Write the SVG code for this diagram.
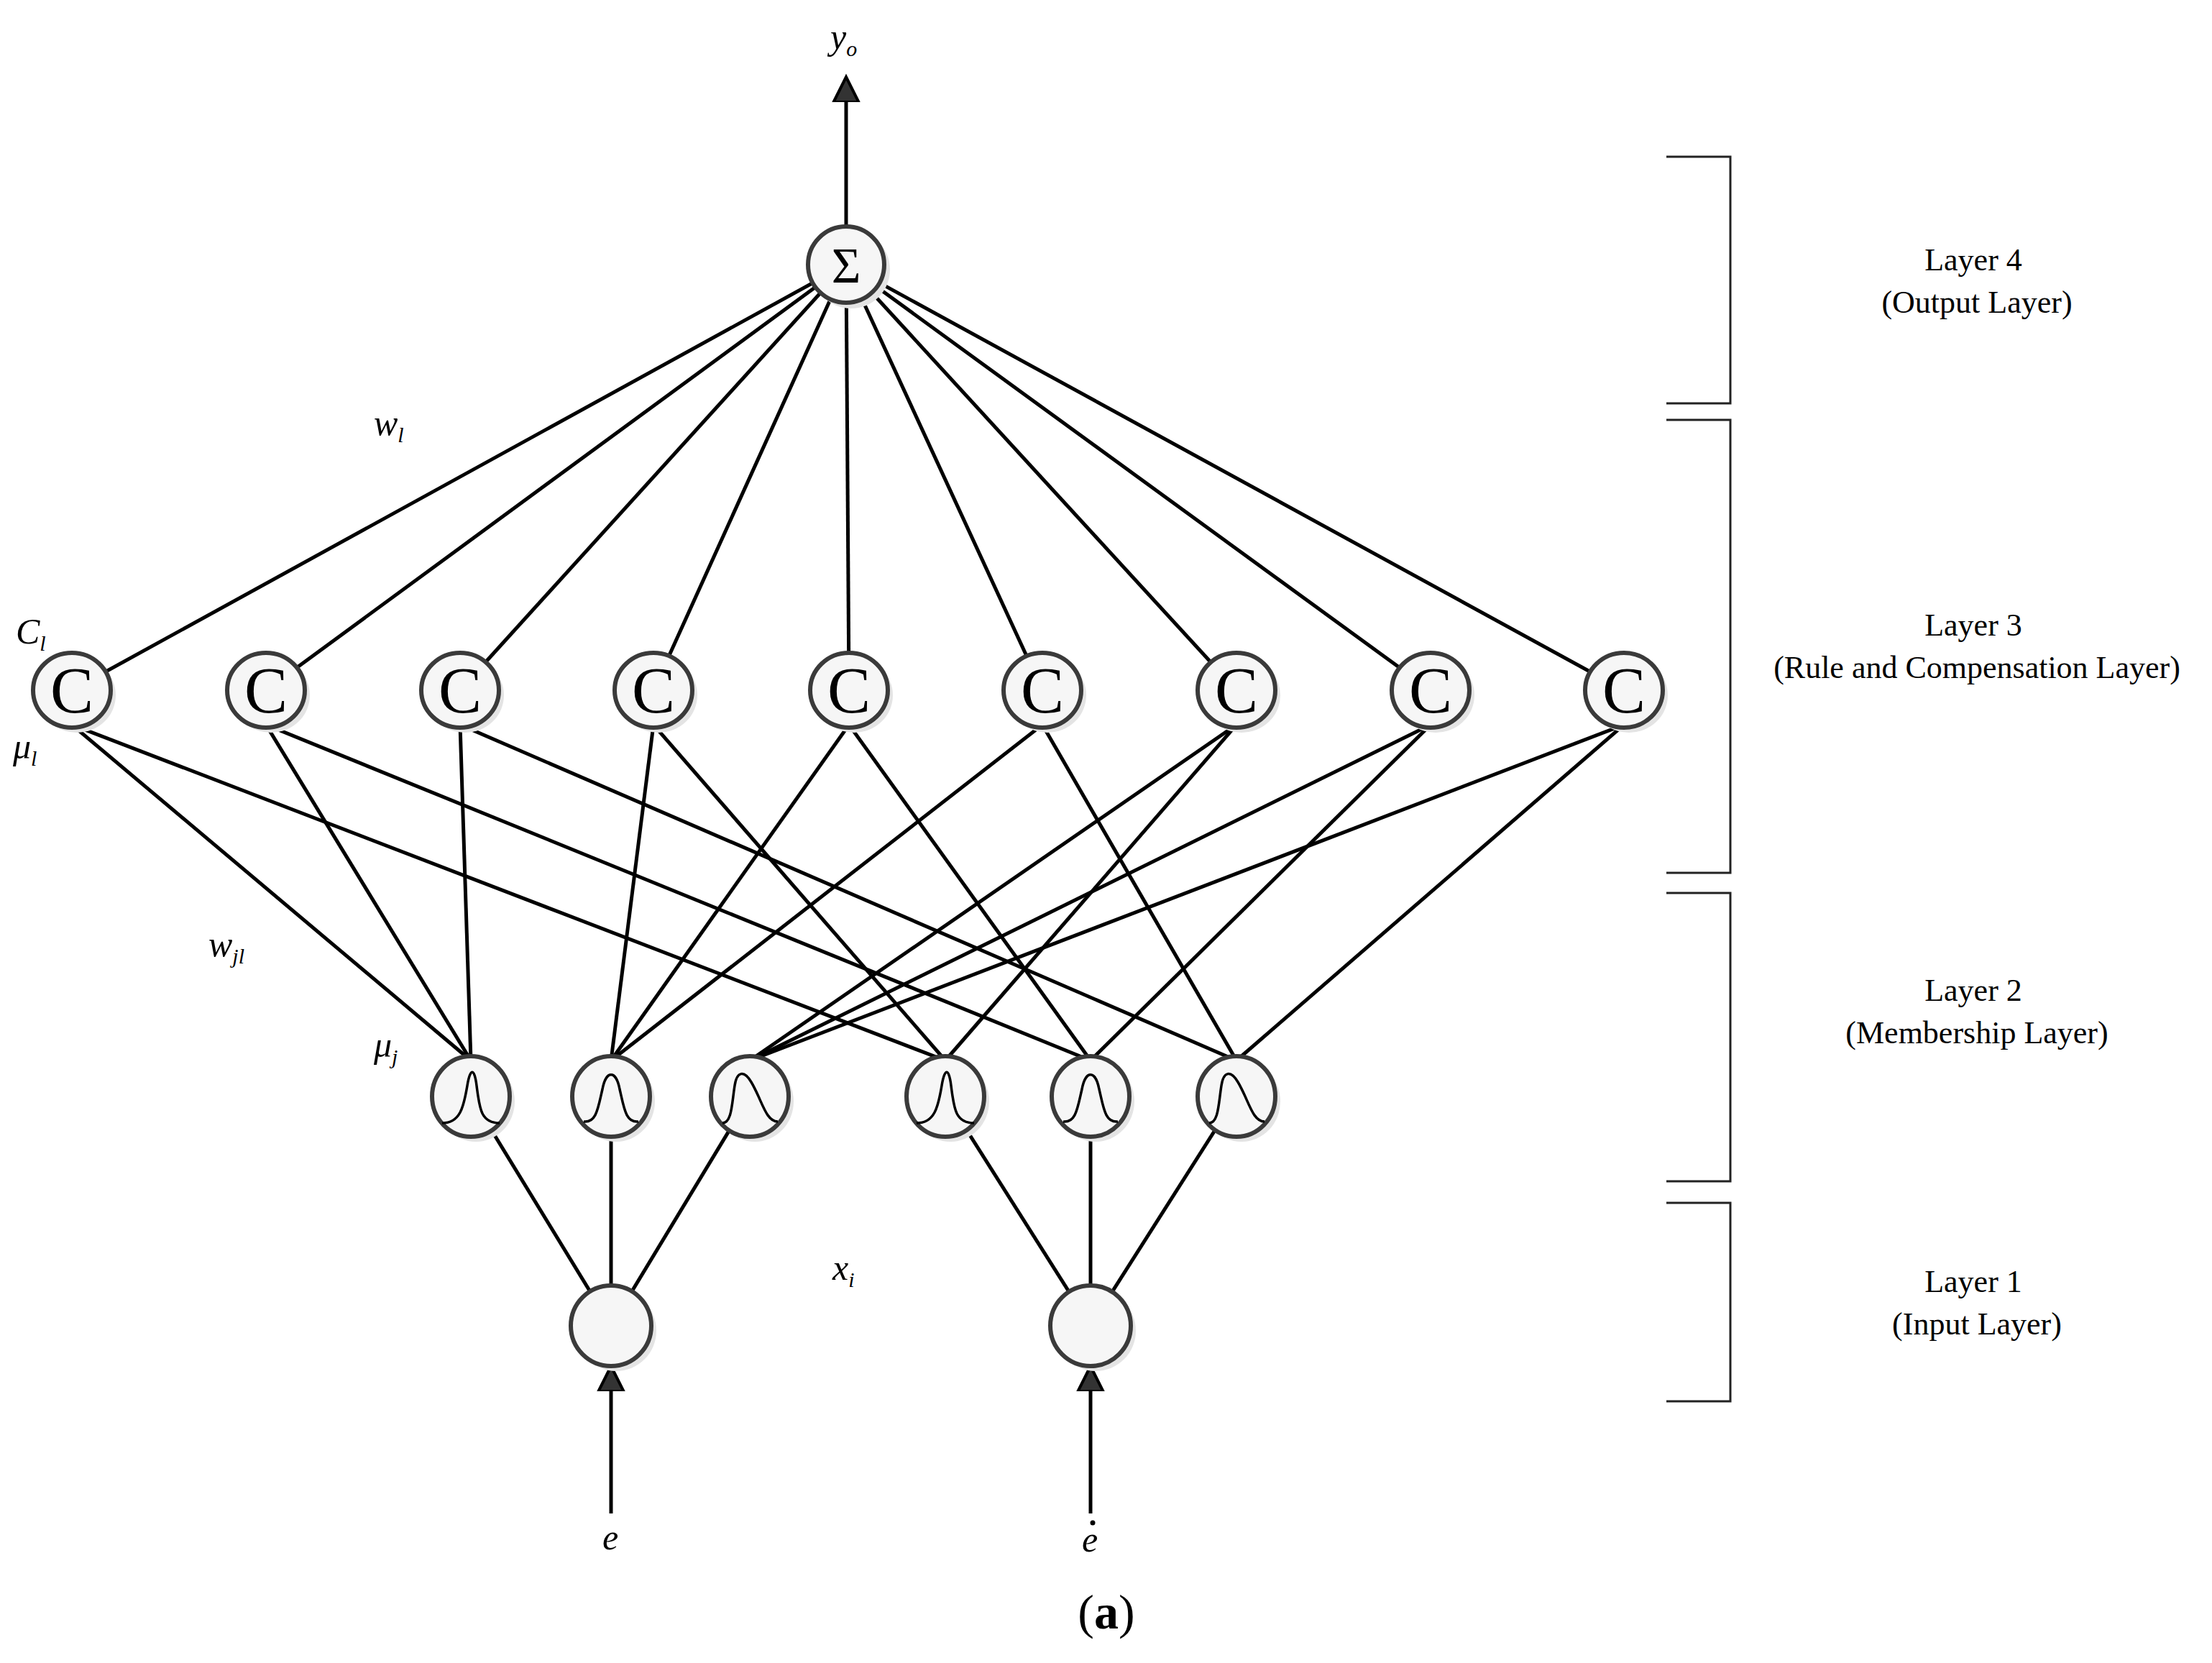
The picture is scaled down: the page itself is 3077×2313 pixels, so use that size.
<svg xmlns="http://www.w3.org/2000/svg" width="3077" height="2313" viewBox="0 0 3077 2313">
<style>
.n{fill:#f6f6f6;stroke:#3a3a3a;stroke-width:6}
.sh{fill:#e4e4e4}
.c{stroke:#000;stroke-width:5;fill:none}
.g{stroke:#000;stroke-width:3.5;fill:none}
.t{font-family:'Liberation Serif',serif;font-size:44px;text-anchor:middle}
.i{font-family:'Liberation Serif',serif;font-style:italic;font-size:50px}
.s{font-size:30px}
.C{font-family:'Liberation Serif',serif;font-size:90px;text-anchor:middle}
.b{stroke:#222;stroke-width:3;fill:none}
</style>
<defs>
<marker id="ah" markerWidth="8" markerHeight="8" refX="6" refY="4" orient="auto" markerUnits="strokeWidth"><path d="M0,0.5 L7,4 L0,7.5 Z" fill="#333" stroke="#000" stroke-width="0.8"/></marker>
</defs>
<g id="connectors">
<line class="c" x1="1177" y1="315" x2="1177" y2="112" marker-end="url(#ah)"/>
<line class="c" x1="850" y1="2105" x2="850" y2="1905" marker-end="url(#ah)"/>
<line class="c" x1="1517" y1="2105" x2="1517" y2="1905" marker-end="url(#ah)"/>
<g>
<line class="c" x1="1177" y1="368" x2="100" y2="960"/><line class="c" x1="1177" y1="368" x2="370" y2="960"/><line class="c" x1="1177" y1="368" x2="640" y2="960"/><line class="c" x1="1177" y1="368" x2="909" y2="960"/><line class="c" x1="1177" y1="368" x2="1181" y2="960"/><line class="c" x1="1177" y1="368" x2="1450" y2="960"/><line class="c" x1="1177" y1="368" x2="1720" y2="960"/><line class="c" x1="1177" y1="368" x2="1990" y2="960"/><line class="c" x1="1177" y1="368" x2="2259" y2="960"/>
</g>
<g>
<line class="c" x1="100" y1="1008" x2="655" y2="1475"/><line class="c" x1="100" y1="1008" x2="1315" y2="1475"/>
<line class="c" x1="370" y1="1008" x2="655" y2="1475"/><line class="c" x1="370" y1="1008" x2="1517" y2="1475"/>
<line class="c" x1="640" y1="1008" x2="655" y2="1475"/><line class="c" x1="640" y1="1008" x2="1720" y2="1475"/>
<line class="c" x1="909" y1="1008" x2="850" y2="1475"/><line class="c" x1="909" y1="1008" x2="1315" y2="1475"/>
<line class="c" x1="1181" y1="1008" x2="850" y2="1475"/><line class="c" x1="1181" y1="1008" x2="1517" y2="1475"/>
<line class="c" x1="1450" y1="1008" x2="850" y2="1475"/><line class="c" x1="1450" y1="1008" x2="1720" y2="1475"/>
<line class="c" x1="1720" y1="1008" x2="1043" y2="1475"/><line class="c" x1="1720" y1="1008" x2="1315" y2="1475"/>
<line class="c" x1="1990" y1="1008" x2="1043" y2="1475"/><line class="c" x1="1990" y1="1008" x2="1517" y2="1475"/>
<line class="c" x1="2259" y1="1008" x2="1043" y2="1475"/><line class="c" x1="2259" y1="1008" x2="1720" y2="1475"/>
</g>
<g>
<line class="c" x1="850" y1="1844" x2="655" y2="1525"/><line class="c" x1="850" y1="1844" x2="850" y2="1525"/><line class="c" x1="850" y1="1844" x2="1043" y2="1525"/>
<line class="c" x1="1517" y1="1844" x2="1315" y2="1525"/><line class="c" x1="1517" y1="1844" x2="1517" y2="1525"/><line class="c" x1="1517" y1="1844" x2="1720" y2="1525"/>
</g>
</g>
<g id="sum"><circle class="sh" cx="1184" cy="375" r="54"/><circle class="n" cx="1177" cy="368" r="53"/><text class="C" x="1177" y="393" style="font-size:70px">Σ</text></g>
<g id="rules">
<g id="c1"><ellipse class="sh" cx="107" cy="967" rx="54" ry="52"/><ellipse class="n" cx="100" cy="960" rx="54" ry="52"/><text class="C" x="100" y="991">C</text></g>
<g id="c2"><ellipse class="sh" cx="377" cy="967" rx="54" ry="52"/><ellipse class="n" cx="370" cy="960" rx="54" ry="52"/><text class="C" x="370" y="991">C</text></g>
<g id="c3"><ellipse class="sh" cx="647" cy="967" rx="54" ry="52"/><ellipse class="n" cx="640" cy="960" rx="54" ry="52"/><text class="C" x="640" y="991">C</text></g>
<g id="c4"><ellipse class="sh" cx="916" cy="967" rx="54" ry="52"/><ellipse class="n" cx="909" cy="960" rx="54" ry="52"/><text class="C" x="909" y="991">C</text></g>
<g id="c5"><ellipse class="sh" cx="1188" cy="967" rx="54" ry="52"/><ellipse class="n" cx="1181" cy="960" rx="54" ry="52"/><text class="C" x="1181" y="991">C</text></g>
<g id="c6"><ellipse class="sh" cx="1457" cy="967" rx="54" ry="52"/><ellipse class="n" cx="1450" cy="960" rx="54" ry="52"/><text class="C" x="1450" y="991">C</text></g>
<g id="c7"><ellipse class="sh" cx="1727" cy="967" rx="54" ry="52"/><ellipse class="n" cx="1720" cy="960" rx="54" ry="52"/><text class="C" x="1720" y="991">C</text></g>
<g id="c8"><ellipse class="sh" cx="1997" cy="967" rx="54" ry="52"/><ellipse class="n" cx="1990" cy="960" rx="54" ry="52"/><text class="C" x="1990" y="991">C</text></g>
<g id="c9"><ellipse class="sh" cx="2266" cy="967" rx="54" ry="52"/><ellipse class="n" cx="2259" cy="960" rx="54" ry="52"/><text class="C" x="2259" y="991">C</text></g>
</g>
<g id="memberships">
<g id="g1"><ellipse class="sh" cx="662" cy="1532" rx="54" ry="56"/><ellipse class="n" cx="655" cy="1525" rx="54" ry="56"/><path class="g" d="M615,1562 C640,1562 645,1540 650,1510 C654,1485 660,1485 663,1510 C667,1540 668,1562 695,1562"/></g>
<g id="g2"><ellipse class="sh" cx="857" cy="1532" rx="54" ry="56"/><ellipse class="n" cx="850" cy="1525" rx="54" ry="56"/><path class="g" d="M812,1560 C830,1562 832,1540 838,1515 C843,1488 857,1488 862,1515 C868,1540 870,1562 888,1560"/></g>
<g id="g3"><ellipse class="sh" cx="1050" cy="1532" rx="54" ry="56"/><ellipse class="n" cx="1043" cy="1525" rx="54" ry="56"/><path class="g" d="M1005,1562 C1018,1562 1018,1535 1022,1510 C1025,1490 1035,1488 1045,1505 C1060,1530 1065,1560 1082,1560"/></g>
<g id="g4"><ellipse class="sh" cx="1322" cy="1532" rx="54" ry="56"/><ellipse class="n" cx="1315" cy="1525" rx="54" ry="56"/><path class="g" d="M1275,1562 C1300,1562 1305,1540 1310,1510 C1314,1485 1320,1485 1323,1510 C1327,1540 1328,1562 1355,1562"/></g>
<g id="g5"><ellipse class="sh" cx="1524" cy="1532" rx="54" ry="56"/><ellipse class="n" cx="1517" cy="1525" rx="54" ry="56"/><path class="g" d="M1479,1560 C1497,1562 1499,1540 1505,1515 C1510,1488 1524,1488 1529,1515 C1535,1540 1537,1562 1555,1560"/></g>
<g id="g6"><ellipse class="sh" cx="1727" cy="1532" rx="54" ry="56"/><ellipse class="n" cx="1720" cy="1525" rx="54" ry="56"/><path class="g" d="M1682,1562 C1695,1562 1695,1535 1699,1510 C1702,1490 1712,1488 1722,1505 C1737,1530 1742,1560 1759,1560"/></g>
</g>
<g id="inputs">
<g id="in1"><circle class="sh" cx="857" cy="1851" r="56"/><circle class="n" cx="850" cy="1844" r="56"/></g>
<g id="in2"><circle class="sh" cx="1524" cy="1851" r="56"/><circle class="n" cx="1517" cy="1844" r="56"/></g>
</g>
<g id="labels">
<text class="i" x="1155" y="68">y<tspan class="s" dy="10">o</tspan></text>
<text class="i" x="520" y="605">w<tspan class="s" dy="10">l</tspan></text>
<text class="i" x="22" y="895">C<tspan class="s" dy="10">l</tspan></text>
<text class="i" x="18" y="1055">μ<tspan class="s" dy="10">l</tspan></text>
<text class="i" x="290" y="1330">w<tspan class="s" dy="10">jl</tspan></text>
<text class="i" x="520" y="1470">μ<tspan class="s" dy="10">j</tspan></text>
<text class="i" x="1158" y="1780">x<tspan class="s" dy="10">i</tspan></text>
<text class="i" x="838" y="2155">e</text>
<text class="i" x="1505" y="2158">e</text>
<circle cx="1520" cy="2118" r="3.5" fill="#000"/>
<text x="1539" y="2265" style="font-family:'Liberation Serif',serif;font-size:68px;text-anchor:middle">(<tspan font-weight="bold">a</tspan>)</text>
</g>
<g id="layers">
<polyline class="b" points="2318,218 2407,218 2407,561 2318,561"/>
<polyline class="b" points="2318,584 2407,584 2407,1214 2318,1214"/>
<polyline class="b" points="2318,1242 2407,1242 2407,1643 2318,1643"/>
<polyline class="b" points="2318,1673 2407,1673 2407,1949 2318,1949"/>
<text class="t" x="2745" y="376">Layer 4</text><text class="t" x="2750" y="435">(Output Layer)</text>
<text class="t" x="2745" y="884">Layer 3</text><text class="t" x="2750" y="943">(Rule and Compensation Layer)</text>
<text class="t" x="2745" y="1392">Layer 2</text><text class="t" x="2750" y="1451">(Membership Layer)</text>
<text class="t" x="2745" y="1797">Layer 1</text><text class="t" x="2750" y="1856">(Input Layer)</text>
</g>
</svg>
